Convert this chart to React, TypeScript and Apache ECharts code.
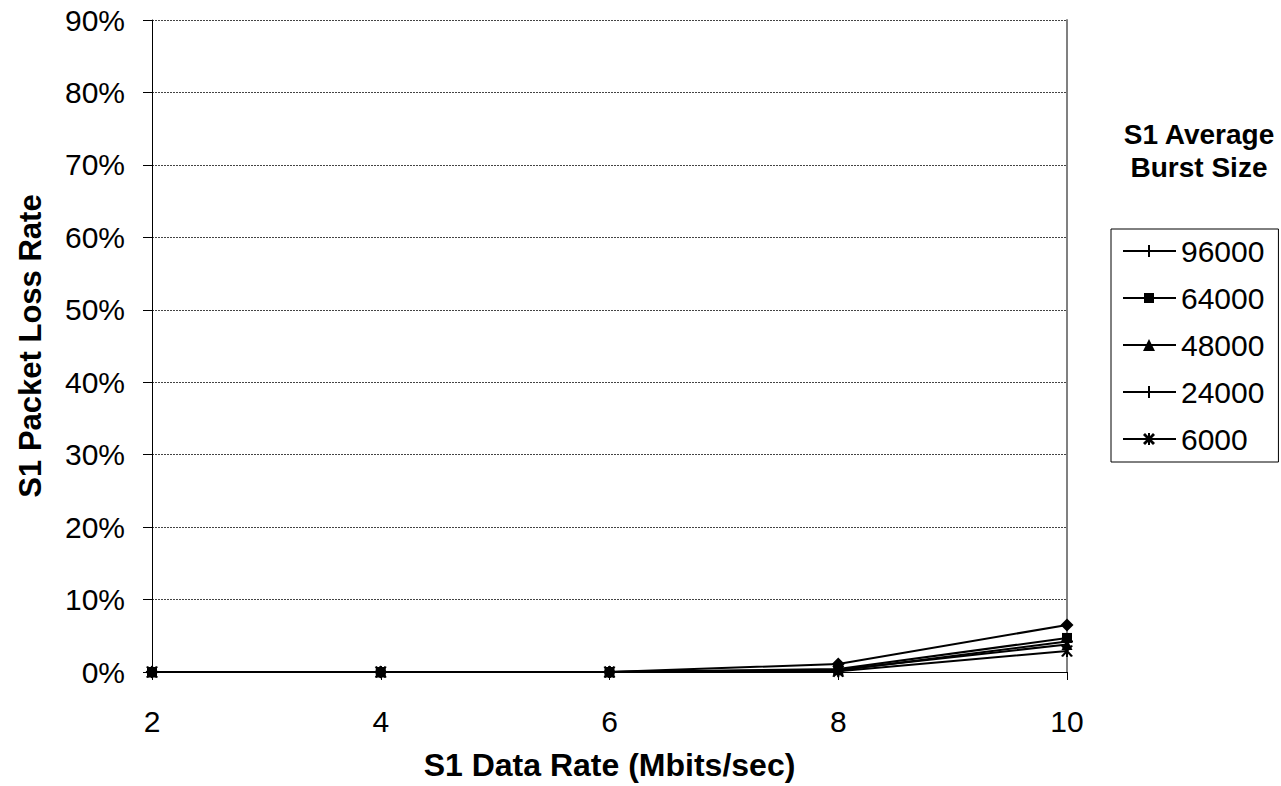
import React, { useEffect, useRef } from 'react';
import * as echarts from 'echarts';

// S1 Data Rate (Mbits/sec)
const dataRates = [2, 4, 6, 8, 10];
// S1 Average Burst Size (legend names)
const burstSizes = ['96000', '64000', '48000', '24000', '6000'];
// S1 Packet Loss Rate (%) per burst size
const loss96000 = [0, 0, 0, 1.1, 6.5];
const loss64000 = [0, 0, 0, 0.4, 4.7];
const loss48000 = [0, 0, 0, 0.3, 3.8];
const loss24000 = [0, 0, 0, 0.2, 4.2];
const loss6000 = [0, 0, 0, 0.1, 2.9];
const yTicks = { min: 0, max: 90, interval: 10 };
const xTicks = { min: 2, max: 10, interval: 2 };

const FONT = '"Liberation Sans", Arial, Helvetica, sans-serif';

const LINE = 'M0,6h53v2h-53z';
const ICONS: Record<string, string> = {
  '96000': 'path://' + LINE + ' M25,1h2v12h-2z',
  '64000': 'path://' + LINE + ' M21,2h10v10h-10z',
  '48000': 'path://' + LINE + ' M20,13L26,1L32,13z',
  '24000': 'path://' + LINE + ' M25,1h2v12h-2z',
  '6000': 'path://' + LINE + ' M25,1h2v12h-2z M20,3L22,1L32,11L30,13z M30,1L32,3L22,13L20,11z',
};

const SYMBOLS: Record<string, [string, number]> = {
  '96000': ['diamond', 13],
  '64000': ['rect', 10],
  '48000': ['triangle', 11],
  '24000': ['path://M5,0h2v12h-2z M0,5h12v2h-12z', 12],
  '6000': ['path://M5,0h2v12h-2z M0,1L2,0L12,11L10,12z M10,0L12,1L2,12L0,11z', 12],
};

const lossBySize: Record<string, number[]> = {
  '96000': loss96000,
  '64000': loss64000,
  '48000': loss48000,
  '24000': loss24000,
  '6000': loss6000,
};

export default function App() {
  const ref = useRef<HTMLDivElement>(null);
  useEffect(() => {
    if (!ref.current) return;
    const chart = echarts.init(ref.current, undefined, { renderer: 'svg' });
    const series = burstSizes.map((name) => ({
      name,
      type: 'line',
      data: dataRates.map((x, i) => [x, lossBySize[name][i]]),
      symbol: SYMBOLS[name][0],
      symbolSize: SYMBOLS[name][1],
      showAllSymbol: true,
      lineStyle: { color: '#000', width: 2 },
      itemStyle: { color: '#000', borderWidth: 0 },
      emphasis: { disabled: true },
      xAxisIndex: 0,
      yAxisIndex: 0,
    }));
    chart.setOption({
      animation: false,
      backgroundColor: '#fff',
      textStyle: { fontFamily: FONT },
      title: {
        text: 'S1 Average\nBurst Size',
        left: 1194,
        top: 113,
        textAlign: 'center',
        textStyle: {
          fontFamily: FONT,
          fontSize: 28,
          fontWeight: 'bold',
          color: '#000',
          lineHeight: 33,
        },
      },
      legend: {
        orient: 'vertical',
        left: 1111,
        top: 229,
        padding: [7, 14, 8, 12],
        borderColor: '#000',
        borderWidth: 1,
        itemWidth: 53,
        itemHeight: 12,
        itemGap: 17,
        selectedMode: false,
        data: burstSizes.map((name) => ({ name, icon: ICONS[name] })),
        itemStyle: { color: '#000', borderWidth: 0 },
        textStyle: { fontFamily: FONT, fontSize: 30, color: '#000', lineHeight: 30 },
      },
      grid: { left: 152, top: 20, width: 915, height: 652, containLabel: false },
      xAxis: [
        {
          type: 'value',
          min: xTicks.min,
          max: xTicks.max,
          interval: xTicks.interval,
          name: 'S1 Data Rate (Mbits/sec)',
          nameLocation: 'middle',
          nameGap: 77,
          nameTextStyle: { fontFamily: FONT, fontSize: 32, fontWeight: 'bold', color: '#000' },
          axisLine: { show: true, lineStyle: { color: '#000', width: 1 } },
          axisTick: { show: true, length: 8, lineStyle: { color: '#000' } },
          axisLabel: { fontFamily: FONT, fontSize: 30, color: '#000', margin: 34 },
          splitLine: { show: false },
        },
        {
          type: 'value',
          position: 'top',
          min: xTicks.min,
          max: xTicks.max,
          axisLine: { show: true, lineStyle: { color: '#000', width: 1 } },
          axisTick: { show: false },
          axisLabel: { show: false },
          splitLine: { show: false },
        },
      ],
      yAxis: [
        {
          type: 'value',
          min: yTicks.min,
          max: yTicks.max,
          interval: yTicks.interval,
          name: 'S1 Packet Loss Rate',
          nameLocation: 'middle',
          nameGap: 106,
          nameRotate: 90,
          nameTextStyle: { fontFamily: FONT, fontSize: 31, fontWeight: 'bold', color: '#000' },
          axisLine: { show: true, lineStyle: { color: '#000', width: 1 } },
          axisTick: { show: true, length: 9, lineStyle: { color: '#000' } },
          axisLabel: { fontFamily: FONT, fontSize: 30, color: '#000', margin: 27, formatter: '{value}%' },
          splitLine: { show: true, lineStyle: { color: '#444', width: 1, type: [2, 1] } },
        },
        {
          type: 'value',
          position: 'right',
          min: yTicks.min,
          max: yTicks.max,
          axisLine: { show: true, lineStyle: { color: '#808080', width: 2 } },
          axisTick: { show: false },
          axisLabel: { show: false },
          splitLine: { show: false },
        },
      ],
      series,
    });
    return () => chart.dispose();
  }, []);
  return (
    <div
      ref={ref}
      style={{ position: 'fixed', left: 0, top: 0, width: 1281, height: 786 }}
    />
  );
}
